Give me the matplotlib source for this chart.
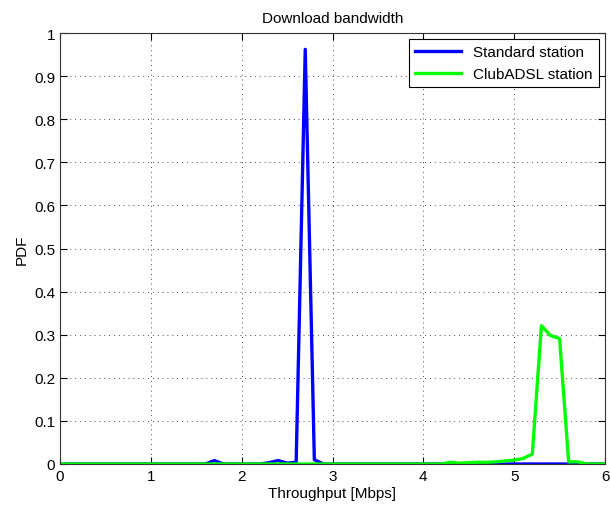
import numpy as np
import matplotlib.pyplot as plt

# bin centres (Mbps) and PDF values
throughput = np.round(np.arange(0, 6.01, 0.1), 1)

std_points = {1.7: 0.008, 2.3: 0.003, 2.4: 0.008, 2.5: 0.002, 2.6: 0.004,
              2.7: 0.962, 2.8: 0.01}
club_points = {4.3: 0.004, 4.4: 0.002, 4.5: 0.003, 4.6: 0.004, 4.7: 0.004,
               4.8: 0.005, 4.9: 0.007, 5.0: 0.009, 5.1: 0.013, 5.2: 0.023,
               5.3: 0.321, 5.4: 0.298, 5.5: 0.291, 5.6: 0.005, 5.7: 0.005}

standard = np.array([std_points.get(x, 0.0) for x in throughput])
clubadsl = np.array([club_points.get(x, 0.0) for x in throughput])

plt.rcParams['font.family'] = ['Liberation Sans', 'DejaVu Sans']

fig = plt.figure(figsize=(6.1, 5.06), dpi=100)
ax = fig.add_axes([60 / 610, 41 / 506, 545 / 610, 431 / 506])

ax.plot(throughput, standard, color='#0000ff', lw=2.4, label='Standard station')
ax.plot(throughput, clubadsl, color='#00ff00', lw=2.4, label='ClubADSL station')

ax.set_xlim(0, 6)
ax.set_ylim(0, 1)
ax.set_xticks(range(0, 7))
ax.set_yticks(np.round(np.arange(0, 1.01, 0.1), 1))
ax.set_yticklabels(['0', '0.1', '0.2', '0.3', '0.4', '0.5', '0.6', '0.7', '0.8', '0.9', '1'])
ax.grid(True, color='black', linestyle=(0, (1, 4)), linewidth=0.7, alpha=0.7)
ax.tick_params(direction='in', top=True, right=True, labelsize=11, length=5)
for s in ax.spines.values():
    s.set_color('#333333')

ax.set_xlabel('Throughput [Mbps]', fontsize=11, labelpad=2)
ax.set_ylabel('PDF', fontsize=11)
ax.set_title('Download bandwidth', fontsize=11, pad=8)

leg = ax.legend(loc='upper right', fontsize=11, fancybox=False, framealpha=1,
                edgecolor='black', handlelength=3, borderaxespad=0.4)
leg.get_frame().set_linewidth(0.8)

fig.savefig('out.png', dpi=100)
